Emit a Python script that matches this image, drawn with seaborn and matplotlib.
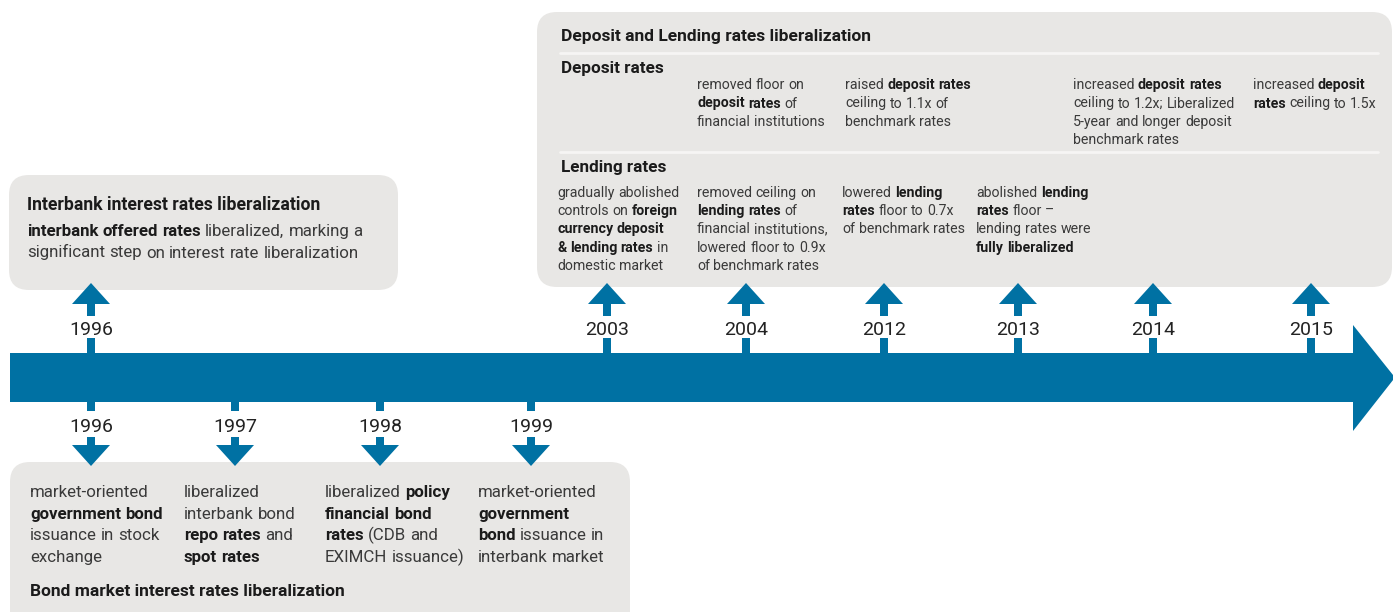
import matplotlib
matplotlib.use("Agg")
import matplotlib.pyplot as plt
import seaborn as sns
from matplotlib.patches import FancyBboxPatch, Polygon, Rectangle

# ---- content ----
top_years = ["1996", "2003", "2004", "2012", "2013", "2014", "2015"]
bottom_years = ["1996", "1997", "1998", "1999"]

interbank_title = "Interbank interest rates liberalization"
interbank_text = ["**interbank offered rates** liberalized, marking a",
                  "significant step on interest rate liberalization"]

deposit_lending_title = "Deposit and Lending rates liberalization"
deposit_header = "Deposit rates"
deposit_years = ["2004", "2012", "2014", "2015"]
deposit_text = [
    ["removed floor on", "**deposit rates** of", "financial institutions"],
    ["raised **deposit rates**", "ceiling to 1.1x of", "benchmark rates"],
    ["increased **deposit rates**", "ceiling to 1.2x; Liberalized",
     "5-year and longer deposit", "benchmark rates"],
    ["increased **deposit**", "**rates** ceiling to 1.5x"],
]
lending_header = "Lending rates"
lending_years = ["2003", "2004", "2012", "2013"]
lending_text = [
    ["gradually abolished", "controls on **foreign**", "**currency deposit**",
     "**& lending rates** in", "domestic market"],
    ["removed ceiling on", "**lending rates** of", "financial institutions,",
     "lowered floor to 0.9x", "of benchmark rates"],
    ["lowered **lending**", "**rates** floor to 0.7x", "of benchmark rates"],
    ["abolished **lending**", "**rates** floor –", "lending rates were",
     "**fully liberalized**"],
]

bond_title = "Bond market interest rates liberalization"
bond_text = [
    ["market-oriented", "**government bond**", "issuance in stock", "exchange"],
    ["liberalized", "interbank bond", "**repo rates** and", "**spot rates**"],
    ["liberalized **policy**", "**financial bond**", "**rates** (CDB and",
     "EXIMCH issuance)"],
    ["market-oriented", "**government**", "**bond** issuance in",
     "interbank market"],
]

# ---- layout (pixels) ----
W, H = 1393, 612
top_x = [91, 607, 746, 884, 1018, 1153, 1311]
bottom_x = [91, 235, 380, 531]
deposit_x = [697, 845, 1073, 1253]
lending_x = [557, 697, 842, 976]
bond_x = [30, 184, 325, 478]

BLUE = "#0071a3"
BOX = "#e8e7e5"
DARK = "#1b1b1b"
BODY = "#3a3a3a"

sns.set_theme(style="white")
plt.rcParams["font.family"] = ["Roboto", "DejaVu Sans"]

fig = plt.figure(figsize=(W / 100, H / 100), dpi=100)
ax = fig.add_axes([0, 0, 1, 1])
ax.set_xlim(0, W)
ax.set_ylim(H, 0)
ax.axis("off")
renderer = fig.canvas.get_renderer()


def text_width(s, size, weight):
    t = ax.text(0, 0, s, fontsize=size, fontweight=weight)
    w = t.get_window_extent(renderer).width
    t.remove()
    return w


def advance(s, size, weight):
    # pen advance of s (measured against a trailing reference glyph)
    return text_width(s + "l", size, weight) - text_width("l", size, weight)


def rich_line(x, y, line, size, reg_color=BODY, bold_color=DARK):
    # "**bold**" markup; each word placed at its pen position in the line
    space = advance(" ", size, "normal")
    xpos = x
    for i, chunk in enumerate(line.split("**")):
        if not chunk:
            continue
        bold = i % 2 == 1
        weight = "bold" if bold else "normal"
        if chunk[0] == " " and xpos > x:
            xpos += space
        words = chunk.split()
        for k, w in enumerate(words):
            off = advance(" ".join(words[:k]) + " ", size, weight) if k else 0
            ax.text(xpos + off, y, w, fontsize=size, fontweight=weight,
                    color=bold_color if bold else reg_color,
                    va="baseline", ha="left")
        xpos += advance(" ".join(words), size, weight)
        if chunk[-1] == " ":
            xpos += space


def box(x0, y0, x1, y1, r=20):
    ax.add_patch(FancyBboxPatch((x0 + r, y0 + r), x1 - x0 - 2 * r, y1 - y0 - 2 * r,
                                boxstyle=f"round,pad={r}", fc=BOX, ec="none", zorder=1))


# ---- boxes ----
box(9, 175, 398, 290)
box(537, 12, 1392, 287)
box(10, 462, 630, 640)

# separators in deposit/lending box
ax.plot([560, 1378], [53, 53], color="#f6f5f4", lw=2, zorder=2)
ax.plot([560, 1378], [152, 152], color="#f6f5f4", lw=2, zorder=2)

# ---- main timeline arrow ----
ax.add_patch(Polygon([(10, 353), (1353, 353), (1353, 325), (1395, 377.5),
                      (1353, 431), (1353, 402), (10, 402)],
                     closed=True, fc=BLUE, ec="none", zorder=3))

# up arrows
for x, yr in zip(top_x, top_years):
    ax.add_patch(Rectangle((x - 4, 300), 8, 16, fc=BLUE, ec="none", zorder=3))
    ax.add_patch(Rectangle((x - 4, 338), 8, 16, fc=BLUE, ec="none", zorder=3))
    ax.add_patch(Polygon([(x - 19, 304), (x + 19, 304), (x, 283)],
                         closed=True, fc=BLUE, ec="none", zorder=3))
    ax.text(x, 335, yr, fontsize=14, color="#222222",
            ha="center", va="baseline")

# down arrows
for x, yr in zip(bottom_x, bottom_years):
    ax.add_patch(Rectangle((x - 4, 400), 8, 11, fc=BLUE, ec="none", zorder=3))
    ax.add_patch(Rectangle((x - 4, 437), 8, 10, fc=BLUE, ec="none", zorder=3))
    ax.add_patch(Polygon([(x - 19, 445), (x + 19, 445), (x, 466)],
                         closed=True, fc=BLUE, ec="none", zorder=3))
    ax.text(x, 432, yr, fontsize=14, color="#222222",
            ha="center", va="baseline")

# ---- interbank box text ----
ax.text(27, 210, interbank_title, fontsize=12.7, fontweight="bold",
        color=DARK, va="baseline")
for i, line in enumerate(interbank_text):
    rich_line(27, 236 + i * 21.5, line, 12.2)

# ---- deposit / lending box text ----
ax.text(561, 41, deposit_lending_title, fontsize=12.5, fontweight="bold",
        color=DARK, va="baseline")
ax.text(561, 73, deposit_header, fontsize=12.3, fontweight="bold",
        color=DARK, va="baseline")
ax.text(561, 172, lending_header, fontsize=12.3, fontweight="bold",
        color=DARK, va="baseline")
for x, lines in zip(deposit_x, deposit_text):
    for i, line in enumerate(lines):
        rich_line(x, 89 + i * 18.5, line, 10.2)
for x, lines in zip(lending_x, lending_text):
    for i, line in enumerate(lines):
        rich_line(x, 197 + i * 18.2, line, 10.2)

# ---- bond box text ----
for x, lines in zip(bond_x, bond_text):
    for i, line in enumerate(lines):
        rich_line(x, 497 + i * 21.6, line, 12.2)
ax.text(30, 596, bond_title, fontsize=12.5, fontweight="bold",
        color=DARK, va="baseline")

fig.savefig("out.png", dpi=100)
